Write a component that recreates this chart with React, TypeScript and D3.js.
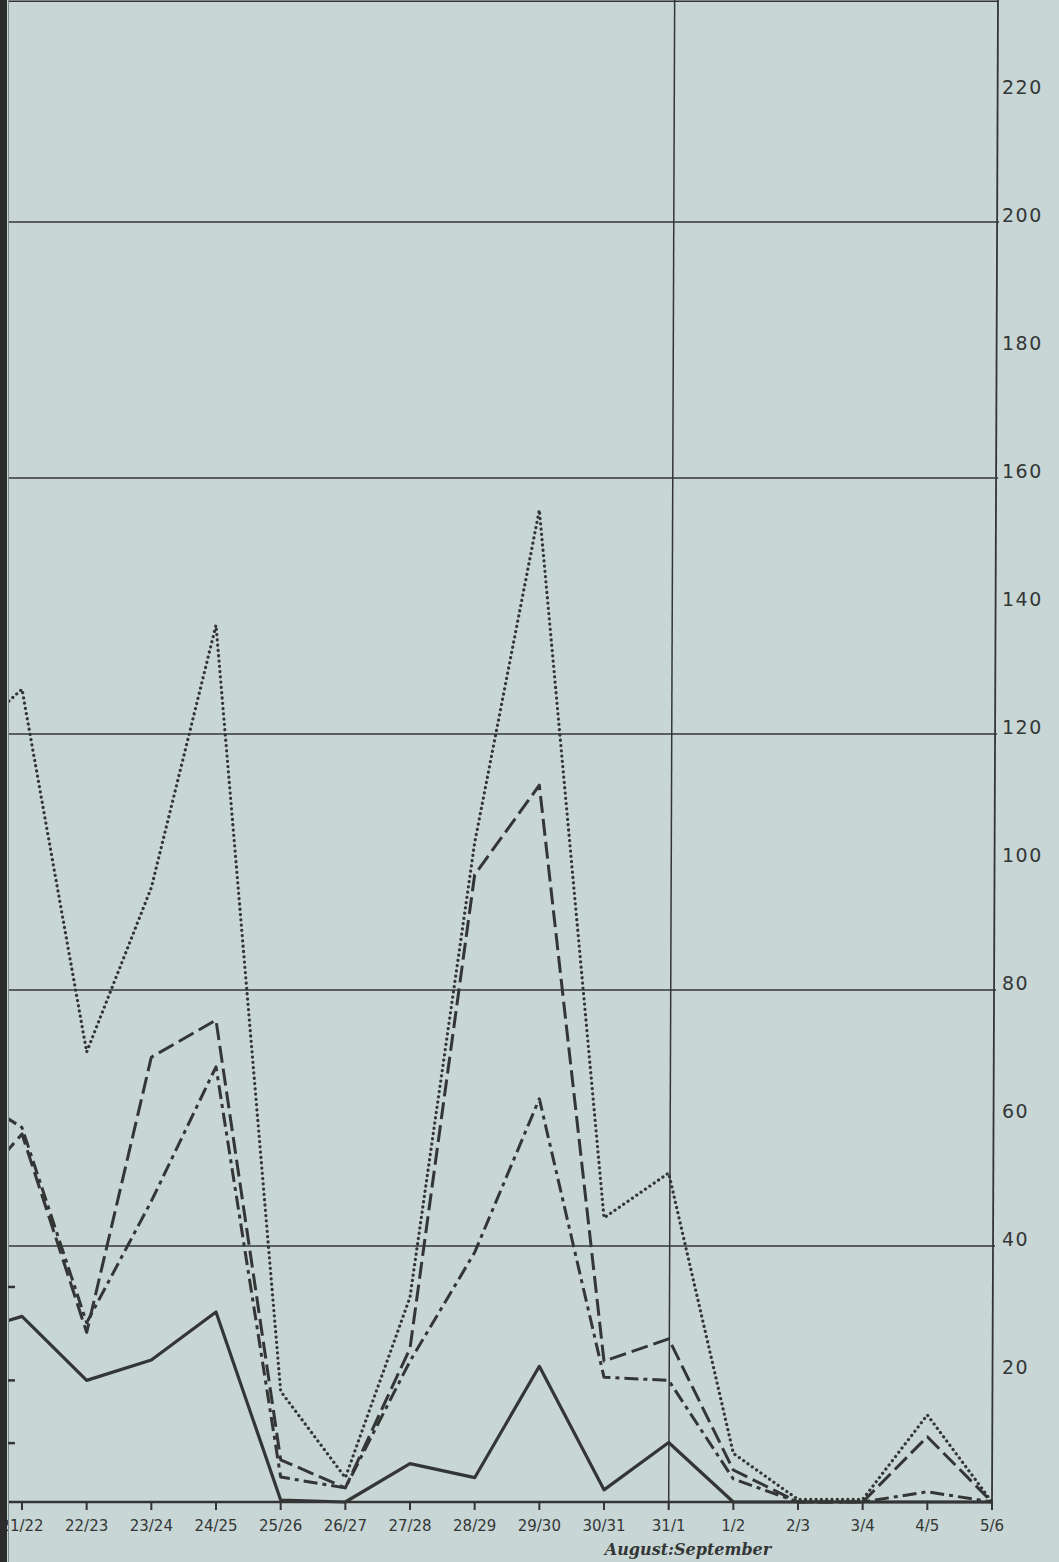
import React from "react";
import * as d3 from "d3";

const categories = ["20/21", "21/22", "22/23", "23/24", "24/25", "25/26", "26/27", "27/28", "28/29", "29/30", "30/31", "31/1", "1/2", "2/3", "3/4", "4/5", "5/6"];
const dottedSeries = [118, 127, 70.3, 96, 137, 17.3, 3.8, 32, 103, 155, 44.4, 51.4, 7.6, 0.4, 0.4, 13.6, 0];
const longDashSeries = [46, 57.5, 26.5, 69.5, 75.3, 6.6, 2.2, 24, 98, 112, 22, 25.5, 5, 0, 0, 10.2, 0];
const dashDotSeries = [65, 58.5, 28, 47, 68, 3.9, 2.2, 22, 39, 63, 19.5, 19, 3.6, 0, 0, 1.6, 0];
const solidSeries = [26, 29, 19, 22.2, 29.7, 0.3, 0, 6, 3.8, 21.2, 1.9, 9.3, 0, 0, 0, 0, 0];

const rightTickValues = [220, 200, 180, 160, 140, 120, 100, 80, 60, 40, 20];
const gridValues = [40, 80, 120, 160, 200];
const leftStubValues = [33.6, 19, 9.2];
const monthDivider = "31/1";
const monthLabel = "August:September";

const W = 1059;
const H = 1562;
const BG = "#c8d6d5";
const INK = "#343636";

export default function App() {
  const x = d3.scalePoint<string>().domain(categories).range([22 - 64.67, 992]);
  const y = d3.scaleLinear().domain([0, 220]).range([1502, 94]);
  const topVal = 234.5;
  const leftX = 8;
  const tilt = 6;
  const rightX = x(categories[categories.length - 1])!;
  const divX = x(monthDivider)!;

  const line = (vals: number[]) =>
    d3.line<number>()
      .x((_, i) => x(categories[i])!)
      .y((v) => y(v))(vals) || "";

  return (
    <svg width={W} height={H} style={{ position: "absolute", left: 0, top: 0, display: "block" }}>
      <rect x={0} y={0} width={W} height={H} fill={BG} />
      <defs>
        <clipPath id="plotclip">
          <rect x={leftX} y={0} width={W} height={H} />
        </clipPath>
      </defs>

      {/* top frame line */}
      <line x1={leftX} x2={rightX + tilt} y1={y(topVal)} y2={y(topVal)} stroke={INK} strokeWidth={1.5} />

      {/* gridlines */}
      {gridValues.map((v) => (
        <line key={v} x1={leftX} x2={rightX + tilt * (1502 - y(v)) / 1502 + 2}
          y1={y(v)} y2={y(v)} stroke={INK} strokeWidth={1.5} />
      ))}

      {/* month divider */}
      <line x1={divX} y1={y(0) + 7} x2={divX + tilt} y2={0} stroke={INK} strokeWidth={1.5} />
      {/* right axis */}
      <line x1={rightX} y1={y(0)} x2={rightX + tilt} y2={0} stroke={INK} strokeWidth={1.8} />

      {/* right labels */}
      {rightTickValues.map((v) => (
        <text key={v} x={1002} y={y(v) - 6} dominantBaseline="middle" fontFamily="DejaVu Sans"
          fontSize={19} letterSpacing={1.5} fill={INK}>{v}</text>
      ))}

      {/* series */}
      <g clipPath="url(#plotclip)" fill="none" stroke={INK} strokeLinejoin="round">
        <path d={line(solidSeries)} strokeWidth={3.2} />
        <path d={line(dashDotSeries)} strokeWidth={3} strokeDasharray="14,5,4,5" />
        <path d={line(longDashSeries)} strokeWidth={3} strokeDasharray="17,6" />
        <path d={line(dottedSeries)} strokeWidth={3.2} strokeDasharray="0.1,5.2" strokeLinecap="round" />
      </g>

      {/* baseline */}
      <line x1={leftX} x2={rightX} y1={y(0)} y2={y(0)} stroke={INK} strokeWidth={2.6} />

      {/* x ticks and labels */}
      {categories.map((c) => (
        <g key={c}>
          <line x1={x(c)!} x2={x(c)!} y1={y(0)} y2={y(0) + 8} stroke={INK} strokeWidth={2} />
          <text x={x(c)!} y={y(0) + 24} textAnchor="middle" dominantBaseline="middle"
            fontFamily="DejaVu Sans" fontSize={15} fill={INK}>{c}</text>
        </g>
      ))}

      <text x={688} y={1555} textAnchor="middle" fontFamily="DejaVu Serif" fontStyle="italic" fontWeight="bold"
        fontSize={16} fill={INK}>{monthLabel}</text>

      {/* left edge */}
      <rect x={0} y={0} width={7} height={H} fill="#2c2c2c" />
      <line x1={leftX + 0.5} x2={leftX + 0.5} y1={0} y2={H} stroke="#7f8a8a" strokeWidth={1} />
      {leftStubValues.map((v) => (
        <line key={v} x1={leftX} x2={leftX + 7} y1={y(v)} y2={y(v)} stroke={INK} strokeWidth={2.5} />
      ))}
    </svg>
  );
}
